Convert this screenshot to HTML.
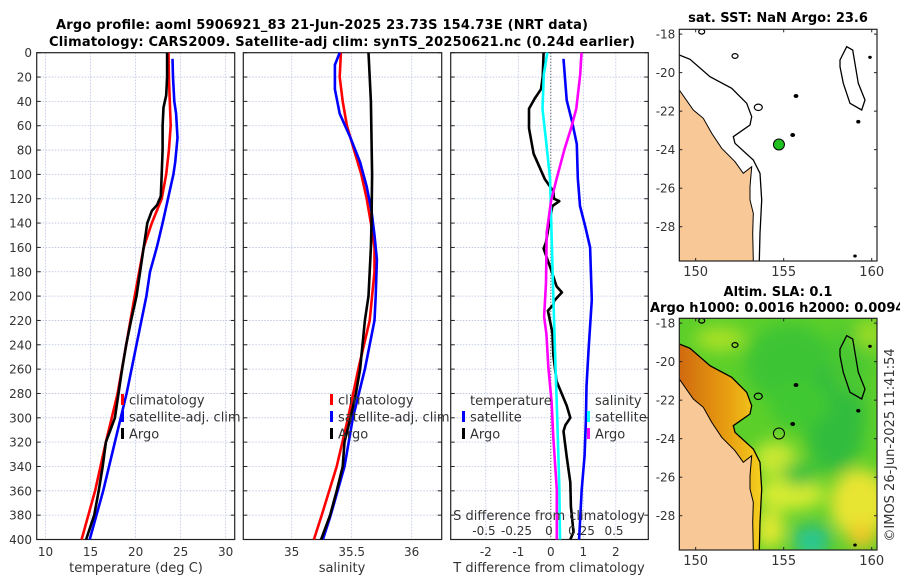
<!DOCTYPE html>
<html><head><meta charset="utf-8"><style>
html,body{margin:0;padding:0;background:#fff;}
svg{display:block;font-family:"DejaVu Sans","Liberation Sans",sans-serif;}
.tk{font-size:12px;fill:#333;}
.tt{font-size:13px;font-weight:bold;fill:#000;}
</style></head><body>
<svg id="c" width="900" height="580" viewBox="0 0 900 580" xmlns="http://www.w3.org/2000/svg">
<text class="tt" x="322" y="29" text-anchor="middle" textLength="532">Argo profile: aoml 5906921_83 21-Jun-2025 23.73S 154.73E (NRT data)</text>
<text class="tt" x="342" y="46" text-anchor="middle" textLength="586">Climatology: CARS2009. Satellite-adj clim: synTS_20250621.nc (0.24d earlier)</text>
<text class="tt" x="778" y="22" text-anchor="middle">sat. SST: NaN Argo: 23.6</text>
<text class="tt" x="778" y="296" text-anchor="middle">Altim. SLA: 0.1</text>
<text class="tt" x="650" y="312">Argo h1000: 0.0016 h2000: 0.0094</text>
<text class="tk" transform="translate(894,445) rotate(-90)" text-anchor="middle" style="font-size:13px">©IMOS 26-Jun-2025 11:41:54</text>
<g id="g"></g>
</svg>
<script>
// ---- Panel 1: temperature ----
const tDepthClim=[0,20,40,60,80,100,120,140,160,180,200,240,280,320,360,400];
const tClim=[23.65,23.7,23.8,23.9,23.7,23.4,22.9,21.8,20.9,20.4,19.9,18.95,18.0,16.7,15.5,14.0];
const tDepthSat=[5,20,40,50,70,90,100,120,140,160,180,200,240,280,320,360,400];
const tSat=[24.1,24.15,24.3,24.5,24.65,24.4,24.2,23.6,23.0,22.35,21.6,21.2,20.1,19.0,17.7,16.4,14.9];
const tDepthArgo=[0,20,35,45,60,80,100,118,125,130,140,160,180,200,220,240,260,280,300,310,320,340,360,380,400];
const tArgo=[23.5,23.5,23.4,23.1,23.0,23.0,22.9,22.8,22.4,21.8,21.3,20.9,20.5,20.1,19.5,18.95,18.5,18.1,17.7,17.2,16.7,16.35,15.9,15.4,14.5];
// ---- Panel 2: salinity ----
const sDepthClim=[0,20,40,60,80,100,120,140,160,180,200,220,260,300,340,380,400];
const sClim=[35.41,35.40,35.425,35.46,35.52,35.58,35.625,35.66,35.69,35.69,35.67,35.65,35.555,35.47,35.375,35.25,35.185];
const sDepthSat=[0,10,30,50,70,90,110,130,150,170,200,220,260,300,340,380,400];
const sSat=[35.40,35.36,35.36,35.40,35.49,35.57,35.625,35.665,35.69,35.71,35.70,35.69,35.61,35.51,35.44,35.325,35.26];
const sDepthArgo=[0,40,100,140,160,200,220,260,280,300,320,340,360,380,400];
const sArgo=[35.64,35.66,35.67,35.665,35.66,35.64,35.61,35.57,35.535,35.49,35.44,35.425,35.375,35.32,35.245];
// ---- Panel 3: differences ----
const dtDepthArgo=[0,20,30,38,46,62,83,104,114,120,122,126,140,156,161,170,176,192,197,204,207,212,230,249,270,290,300,306,311,332,353,373,394,400];
const dtArgo=[-0.22,-0.25,-0.3,-0.5,-0.67,-0.67,-0.53,-0.18,0.08,0.1,0.26,0.05,-0.05,-0.15,-0.22,-0.1,-0.02,0.18,0.34,0.1,0.08,-0.09,0.05,0.08,0.18,0.49,0.6,0.45,0.39,0.49,0.6,0.62,0.7,0.6];
const dtDepthSat=[5,39,56,75,103,126,143,160,203,245,274,302,331,359,400];
const dtSat=[0.39,0.49,0.65,0.8,0.83,0.9,1.06,1.21,1.26,1.16,1.1,1.08,1.04,0.95,0.87];
const dsDepthSat=[0,18,46,75,103,132,189,245,302,359,400];
const dsSat=[-0.013,-0.04,-0.05,-0.02,0.008,0.015,0.03,0.046,0.064,0.08,0.085];
const dsDepthArgo=[0,18,46,62,79,103,122,148,189,217,231,259,287,316,359,400];
const dsArgo=[0.25,0.24,0.21,0.17,0.12,0.06,0.015,-0.018,-0.023,-0.038,-0.02,-0.005,0.02,0.033,0.06,0.06];
// ---- axis ticks ----
const depthTicks=[0,20,40,60,80,100,120,140,160,180,200,220,240,260,280,300,320,340,360,380,400];
const tTicks=[10,15,20,25,30];
const sTicks=[35,35.5,36];
const dtTicks=[-2,-1,0,1,2];
const dsTicks=[-0.5,-0.25,0,0.25,0.5];
const dsTickLabels=["-0.5","-0.25","0","0.25","0.5"];
const latTicks=[-18,-20,-22,-24,-26,-28];
const lonTicks=[150,155,160];
const argoLon=154.73, argoLat=-23.73;

const NS="http://www.w3.org/2000/svg";
const root=document.getElementById('g');
function el(tag,attrs,parent,txt){const e=document.createElementNS(NS,tag);for(const k in attrs)e.setAttribute(k,attrs[k]);if(txt!==undefined)e.textContent=txt;(parent||root).appendChild(e);return e;}

const Y0=52.7,Y1=539.5;
const yD=d=>Y0+(d-0)*(Y1-Y0)/400;
function lin(d0,d1,p0,p1){return v=>p0+(v-d0)*(p1-p0)/(d1-d0);}

const panels=[
 {x0:36.7,x1:234.7,sc:lin(9.02,31.0,36.7,234.7)},
 {x0:243.3,x1:441.7,sc:lin(34.597,36.25,243.3,441.7)},
 {x0:450.7,x1:648.3,sc:lin(-3.08,3.0,450.7,648.3)}
];
const dsX=lin(0,1,549,679);

function frameAndGrid(p,idx,xt,xs){
  const g=el('g',{});
  
  
  depthTicks.forEach(d=>{
    const l=el('line',{x1:p.x0,x2:p.x1,y1:yD(d),y2:yD(d),stroke:'#b8c0e0','stroke-width':0.8,'stroke-dasharray':'1.5,1.5'},g);
    
    
    el('line',{x1:p.x0,x2:p.x0+4,y1:yD(d),y2:yD(d),stroke:'#222'},g);
    el('line',{x1:p.x1-4,x2:p.x1,y1:yD(d),y2:yD(d),stroke:'#222'},g);
  });
  xt.forEach(v=>{
    const x=xs(v);
    const l=el('line',{x1:x,x2:x,y1:Y0,y2:Y1,stroke:'#b8c0e0','stroke-width':0.8,'stroke-dasharray':'1.5,1.5'},g);
    
    
    const t=el('text',{x:x,y:556,'text-anchor':'middle',class:'tk'},g,String(v));
    
    
  });
  const r=el('rect',{x:p.x0,y:Y0,width:p.x1-p.x0,height:Y1-Y0,fill:'none',stroke:'#222','stroke-width':1.2},g);
  
  
  return g;
}
function series(depths,vals,xs,color,name,w){
  const pts=depths.map((d,i)=>xs(vals[i]).toFixed(1)+','+yD(d).toFixed(1)).join(' ');
  const pl=el('polyline',{points:pts,fill:'none',stroke:color,'stroke-width':w||2.6,'stroke-linejoin':'round'});
  
  
}
depthTicks.forEach(d=>{
  const t=el('text',{x:32,y:yD(d)+4.5,'text-anchor':'end',class:'tk'},root,String(d));
  
  
});
frameAndGrid(panels[0],0,tTicks,panels[0].sc);
frameAndGrid(panels[1],1,sTicks,panels[1].sc);
frameAndGrid(panels[2],2,dtTicks,panels[2].sc);
const zl=el('line',{x1:panels[2].sc(0),x2:panels[2].sc(0),y1:Y0,y2:Y1,stroke:'#444','stroke-width':1,'stroke-dasharray':'1,2'});



series(tDepthClim,tClim,panels[0].sc,'#f00','temp-climatology-line');
series(tDepthSat,tSat,panels[0].sc,'#00f','temp-satellite-line');
series(tDepthArgo,tArgo,panels[0].sc,'#000','temp-argo-line');
series(sDepthClim,sClim,panels[1].sc,'#f00','sal-climatology-line');
series(sDepthSat,sSat,panels[1].sc,'#00f','sal-satellite-line');
series(sDepthArgo,sArgo,panels[1].sc,'#000','sal-argo-line');
series(dtDepthArgo,dtArgo,panels[2].sc,'#000','tdiff-argo-line');
series(dtDepthSat,dtSat,panels[2].sc,'#00f','tdiff-satellite-line');
series(dsDepthSat,dsSat,dsX,'#0ff','sdiff-satellite-line');
series(dsDepthArgo,dsArgo,dsX,'#f0f','sdiff-argo-line');

[['temperature (deg C)',136,'x-axis-title-temperature'],['salinity',342,'x-axis-title-salinity'],['T difference from climatology',549,'x-axis-title-tdiff']].forEach(a=>{
  const t=el('text',{x:a[1],y:572,'text-anchor':'middle',class:'tk',style:'font-size:13px'},root,a[0]);
  
  
});
const sdt=el('text',{x:549,y:520,'text-anchor':'middle',class:'tk',style:'font-size:13px'},root,'S difference from climatology');


dsTicks.forEach((v,i)=>{
  const t=el('text',{x:dsX(v),y:535,'text-anchor':'middle',class:'tk'},root,dsTickLabels[i]);
  
  
});

function legend(x,y,color,label,name){
  const g=el('g',{});
  
  
  el('rect',{x:x,y:y-6,width:3,height:11,fill:color},g);
  el('text',{x:x+8,y:y+4.5,class:'tk',style:'font-size:13px'},g,label);
}
legend(121,400,'#f00','climatology','legend-temp-climatology');
legend(121,417,'#00f','satellite-adj. clim','legend-temp-satellite');
legend(121,434,'#000','Argo','legend-temp-argo');
legend(330,400,'#f00','climatology','legend-sal-climatology');
legend(330,417,'#00f','satellite-adj. clim','legend-sal-satellite');
legend(330,434,'#000','Argo','legend-sal-argo');
const lt=el('text',{x:470,y:405,class:'tk',style:'font-size:13px'},root,'temperature');


legend(462,417,'#00f','satellite','legend-tdiff-satellite');
legend(462,434,'#000','Argo','legend-tdiff-argo');
const ls=el('text',{x:595,y:405,class:'tk',style:'font-size:13px'},root,'salinity');


legend(587,417,'#0ff','satellite','legend-sdiff-satellite');
legend(587,434,'#f0f','Argo','legend-sdiff-argo');

// ---- maps ----
const MX0=679.3,MX1=877;
const lonX=lin(149.07,160.3,MX0,MX1);
function latYf(top,bot){return lin(-17.75,-29.78,top,bot);}
const coast=[[679.3,90],[693.3,110],[703.3,118.3],[711.7,133.3],[721.7,148.3],[735,161.7],[743.3,173.3],[751.7,166.7],[750,186.7],[750,200],[753.3,213.3],[752.7,233.3],[753.3,261]];
const shelf=[[679.3,55],[690,59.3],[710,76.7],[731.7,88.3],[746.7,103.3],[751.7,116.7],[750,125],[733.3,136.7],[735,143.3],[753.3,160],[760,173.3],[761.7,200],[760,233.3],[759.3,261]];
const island=[[840,66.7],[843.3,83.3],[850,103.3],[861.7,110],[865,100],[858.3,83.3],[852.7,50],[846.7,46.7],[840,60]];
const blobs=[[735,56,3],[758.3,107.3,4],[796,96,1.8],[792.7,135,1.8],[858.3,121.7,1.5],[855,256,1.2],[870,57.3,1.2],[701.7,31.7,3]];
function P(a,dy){return a.map(p=>p[0]+','+(p[1]+dy)).join(' ');}
function map(top,bot,sla,idx){
  const dy=top-29.3;
  const g=el('g',{});
  
  
  const cid='clip'+idx;
  const cp=el('clipPath',{id:cid},g);
  el('rect',{x:MX0,y:top,width:MX1-MX0,height:bot-top},cp);
  const inner=el('g',{'clip-path':'url(#'+cid+')'},g);
  if(sla){
    const f=el('filter',{id:'bl',x:'-50%',y:'-50%',width:'200%',height:'200%'},g);
    el('feGaussianBlur',{stdDeviation:8},f);
    el('rect',{x:MX0,y:top,width:MX1-MX0,height:bot-top,fill:'#5ccf2a'},inner);
    const fg=el('g',{filter:'url(#bl)'},inner);
    [[790,75,45,40,'#3cc434'],[835,130,30,55,'#30bc3c'],[800,115,30,25,'#40c830'],[775,170,22,18,'#c8e830'],[790,205,35,16,'#d8ec30'],[860,215,30,35,'#e8e430'],[770,240,15,20,'#e0e830'],[812,250,20,16,'#30c07a'],[800,185,18,12,'#38c040'],[850,70,20,35,'#48c830'],[862,248,14,12,'#f0c428'],[720,50,25,12,'#a8e028'],[870,45,15,15,'#98dc28']].forEach(e=>{
      el('ellipse',{cx:e[0],cy:e[1]+dy,rx:e[2],ry:e[3],fill:e[4]},fg);
    });
    el('ellipse',{cx:811,cy:255+dy,rx:9,ry:7,fill:'#20d0b0',filter:'url(#bl)'},inner);
    const band=shelf.concat(coast.slice().reverse()).concat([[679.3,90]]);
    const lg=el('linearGradient',{id:'og',x1:0,y1:0,x2:1,y2:0},g);
    el('stop',{offset:'0','stop-color':'#d06a10'},lg);
    el('stop',{offset:'0.6','stop-color':'#e8a010'},lg);
    el('stop',{offset:'1','stop-color':'#f4d020'},lg);
    el('polygon',{points:P(band,dy),fill:'url(#og)'},inner);
  }
  const land=coast.concat([[679.3,261]]);
  const lp=el('polygon',{points:P(land,dy),fill:'#f8c996',stroke:'#000','stroke-width':1},inner);
  
  
  el('polyline',{points:P(shelf,dy),fill:'none',stroke:'#000','stroke-width':1.3},inner);
  el('polygon',{points:P(island,dy),fill:'none',stroke:'#000','stroke-width':1.3},inner);
  blobs.forEach(b=>el('ellipse',{cx:b[0],cy:b[1]+dy,rx:b[2],ry:b[2]*0.8,fill:b[2]>2.5?'none':'#000',stroke:'#000','stroke-width':1.2},inner));
  const ly=latYf(top,bot);
  const dot=el('circle',{cx:lonX(argoLon),cy:ly(argoLat),r:5.5,fill:sla?'none':'#20c020',stroke:'#000','stroke-width':1},g);
  
  
  latTicks.forEach(v=>{
    const y=ly(v);
    el('line',{x1:MX0,x2:MX0+3,y1:y,y2:y,stroke:'#222'},g);
    el('line',{x1:MX1-3,x2:MX1,y1:y,y2:y,stroke:'#222'},g);
    const t=el('text',{x:MX0-4,y:y+4.5,'text-anchor':'end',class:'tk'},g,String(v));
    
    
  });
  lonTicks.forEach(v=>{
    const x=lonX(v);
    el('line',{x1:x,x2:x,y1:bot-3,y2:bot,stroke:'#222'},g);
    el('line',{x1:x,x2:x,y1:top,y2:top+3,stroke:'#222'},g);
    const t=el('text',{x:x,y:bot+15,'text-anchor':'middle',class:'tk',style:'font-size:13px'},g,String(v));
    
    
  });
  el('rect',{x:MX0,y:top,width:MX1-MX0,height:bot-top,fill:'none',stroke:'#222','stroke-width':1.2},g);
}
map(29.3,261,false,1);
map(318.3,550,true,2);
</script>
</body></html>
